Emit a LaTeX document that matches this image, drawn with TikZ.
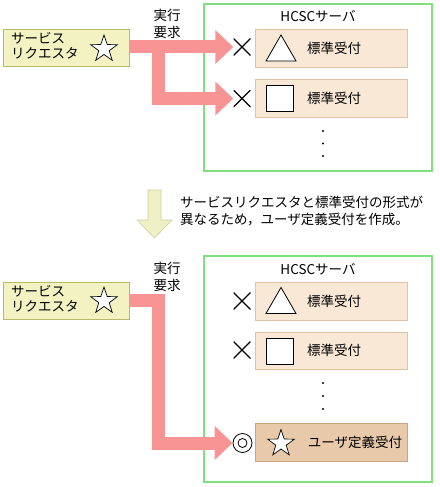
\documentclass[tikz,border=0pt]{standalone}
\usepackage{fontspec}
\setmainfont{Noto Sans CJK JP}
\usetikzlibrary{shapes.geometric,arrows.meta}
\definecolor{pinkarr}{HTML}{F99494}
\definecolor{reqfill}{HTML}{F2F2C2}
\definecolor{reqline}{HTML}{B9B96A}
\definecolor{stdfill}{HTML}{FAE8D6}
\definecolor{stdline}{HTML}{E0C3A5}
\definecolor{usrfill}{HTML}{E8C9A9}
\definecolor{usrline}{HTML}{C9A585}
\definecolor{srvgreen}{HTML}{7FE07F}
\definecolor{downfill}{HTML}{EEF0C6}
\definecolor{downline}{HTML}{CFCF9F}
\begin{document}
\begin{tikzpicture}[x=1pt,y=-1pt,
  font=\fontsize{13.5}{15}\selectfont,
  reqbox/.style={draw=reqline, fill=reqfill, line width=0.8pt, minimum width=126pt, minimum height=37pt, inner sep=0pt},
  stdbox/.style={draw=stdline, fill=stdfill, line width=0.8pt, minimum width=152pt, minimum height=38pt, inner sep=0pt},
  usrbox/.style={draw=usrline, fill=usrfill, line width=0.8pt, minimum width=152pt, minimum height=38pt, inner sep=0pt},
  server/.style={draw=srvgreen, line width=1.5pt, minimum width=228pt, inner sep=0pt},
  txt/.style={inner sep=0pt, align=left},
  txtwide/.style={inner sep=0pt, align=left, font=\fontsize{13.5}{17}\selectfont},
  starmark/.style={star, star points=5, star point ratio=2.55, minimum size=28pt, inner sep=0pt, draw=black, fill=white, line width=0.7pt},
  crossmark/.style={minimum size=17pt, inner sep=0pt, path picture={
      \draw[line width=1.3pt] (path picture bounding box.north west) -- (path picture bounding box.south east)
        (path picture bounding box.south west) -- (path picture bounding box.north east);}},
  okmark/.style={circle, draw=black, line width=0.8pt, minimum size=19pt, inner sep=0pt, path picture={
      \draw[line width=0.8pt] (path picture bounding box.center) circle[radius=4.5pt];}},
  bigarrow/.style={draw=pinkarr, line width=13pt, miter limit=10, line join=miter,
      -{Triangle[width=33pt,length=18pt]}},
  dot/.style={circle, fill=black, inner sep=0pt, minimum size=2.4pt},
  shapeline/.style={draw=black, fill=white, line width=0.8pt}
]
\useasboundingbox (0,0) rectangle (439,487);

% ---------- top scene ----------
\node[server, minimum height=167pt] (srvA) at (318,87.5) {};
\node[txt] (srvAlab) at (318,16) {HCSCサーバ};

\node[reqbox] (reqA) at (66,47.5) {};
\node[txt, anchor=west] (reqAtxt) at (11,45.5) {サービス\\リクエスタ};
\node[starmark] (starA) at (104,49) {};
\node[txtwide] (execA) at (167,24) {実行\\要求};

\node[stdbox] (stdA1) at (331,48) {};
\node[stdbox] (stdA2) at (331,98) {};
\node[crossmark] (xA1) at (242,47) {};
\node[crossmark] (xA2) at (242,98.5) {};
\draw[shapeline] (266,61) -- (296,61) -- (281,35) -- cycle;
\draw[shapeline] (266,85) rectangle (293,111);
\node[txt] (stdA1txt) at (334,48) {標準受付};
\node[txt] (stdA2txt) at (334,98) {標準受付};
\node[dot] (dA1) at (323,131) {};
\node[dot] (dA2) at (323,143.5) {};
\node[dot] (dA3) at (323,156) {};

\coordinate (bendA) at (158.5,47);
\draw[bigarrow] (reqA.east |- xA1.west) -- (xA1.west);
\draw[bigarrow] (bendA) -- (bendA |- xA2.west) -- (xA2.west);

% ---------- transition ----------
\draw[draw=downline, fill=downfill, line width=0.6pt]
  (148,190) -- (161,190) -- (161,220) -- (172,220) -- (154.5,238) -- (137,220) -- (148,220) -- cycle;
\node[txtwide, anchor=west] (note) at (180,211.5) {サービスリクエスタと標準受付の形式が\\異なるため，ユーザ定義受付を作成。};

% ---------- bottom scene ----------
\node[server, minimum height=226pt] (srvB) at (318,369) {};
\node[txt] (srvBlab) at (318,269) {HCSCサーバ};

\node[reqbox] (reqB) at (66,300.5) {};
\node[txt, anchor=west] (reqBtxt) at (11,298.5) {サービス\\リクエスタ};
\node[starmark] (starB) at (104,301) {};
\node[txtwide] (execB) at (167,276.5) {実行\\要求};

\node[stdbox] (stdB1) at (331,301) {};
\node[stdbox, minimum height=37pt] (stdB2) at (331,350.5) {};
\node[usrbox] (usrB) at (331,442) {};
\node[crossmark] (xB1) at (242,301) {};
\node[crossmark] (xB2) at (242,350) {};
\node[okmark] (okB) at (242.5,443) {};
\draw[shapeline] (266,313.5) -- (296,313.5) -- (281,287.5) -- cycle;
\draw[shapeline] (266,338) rectangle (293,364);
\node[starmark] (starU) at (281,443.5) {};
\node[txt] (stdB1txt) at (334,301) {標準受付};
\node[txt] (stdB2txt) at (334,350.5) {標準受付};
\node[txt] (usrBtxt) at (355,442.5) {ユーザ定義受付};
\node[dot] (dB1) at (323,383) {};
\node[dot] (dB2) at (323,396) {};
\node[dot] (dB3) at (323,409) {};

\coordinate (bendB) at (158.5,300);
\draw[bigarrow] (reqB.east |- bendB) -- (bendB) -- (bendB |- okB.west) -- (okB.west);

\end{tikzpicture}
\end{document}
